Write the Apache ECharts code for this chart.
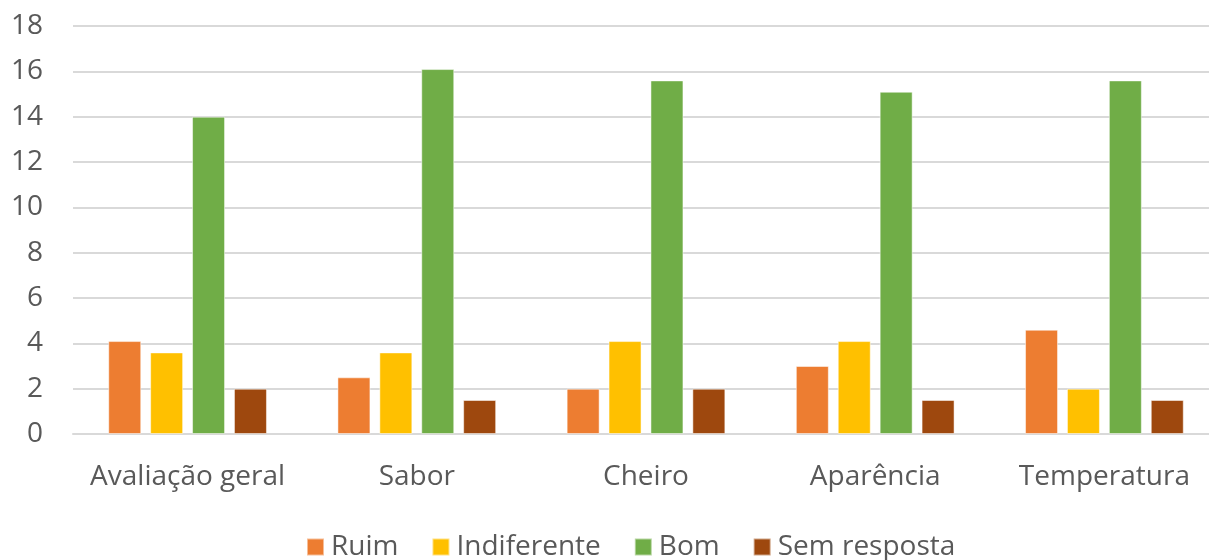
<!DOCTYPE html>
<html><head><meta charset="utf-8">
<script src="https://cdn.jsdelivr.net/npm/echarts@6/dist/echarts.min.js"></script>
<style>html,body{margin:0;padding:0;background:#fff}#c{width:1209px;height:560px}</style>
</head><body><div id="c"></div>
<script>
const categories = ['Avaliação geral', 'Sabor', 'Cheiro', 'Aparência', 'Temperatura'];
const ruim = [4.1, 2.5, 2.0, 3.0, 4.6];
const indiferente = [3.6, 3.6, 4.1, 4.1, 2.0];
const bom = [14.0, 16.1, 15.6, 15.1, 15.6];
const semResposta = [2.0, 1.5, 2.0, 1.5, 1.5];
const yTicks = [0, 2, 4, 6, 8, 10, 12, 14, 16, 18];

const font = 'Open Sans';
const fs = 28;
const chart = echarts.init(document.getElementById('c'));
function s(name, data, color) {
  return { name, type: 'bar', data, barWidth: 33, barGap: '27%',
    itemStyle: { color, borderColor: 'rgba(255,255,255,0.5)', borderWidth: 1 } };
}
chart.setOption({
  animation: false,
  textStyle: { fontFamily: font },
  grid: { left: 73, top: 26, width: 1146, height: 408, outerBoundsMode: 'none', containLabel: false },
  legend: {
    top: 533, left: 306, padding: 0, itemWidth: 17, itemHeight: 17, itemGap: 33,
    icon: 'rect',
    textStyle: { fontFamily: font, fontSize: fs, color: '#595959', padding: [0, 0, 0, 2] },
    data: ['Ruim', 'Indiferente', 'Bom', 'Sem resposta']
  },
  xAxis: {
    type: 'category', data: categories,
    axisLine: { lineStyle: { color: '#D9D9D9', width: 2 } },
    axisTick: { show: false },
    axisLabel: { fontFamily: font, fontSize: fs, color: '#595959', margin: 29, interval: 0 }
  },
  yAxis: {
    type: 'value', min: yTicks[0], max: yTicks[yTicks.length - 1], interval: 2,
    axisLine: { show: false }, axisTick: { show: false },
    splitLine: { lineStyle: { color: '#D9D9D9', width: 2 } },
    axisLabel: { fontFamily: font, fontSize: fs, color: '#595959', margin: 30 }
  },
  series: [
    s('Ruim', ruim, '#ED7D31'),
    s('Indiferente', indiferente, '#FFC000'),
    s('Bom', bom, '#70AD47'),
    s('Sem resposta', semResposta, '#9E480E')
  ]
});
</script></body></html>
